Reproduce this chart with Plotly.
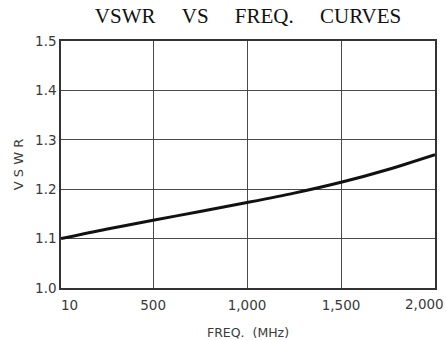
import plotly.graph_objects as go

freq_mhz = [10, 250, 500, 750, 1000, 1250, 1500, 1750, 2000]
vswr = [1.100, 1.119, 1.137, 1.155, 1.173, 1.192, 1.214, 1.240, 1.270]

x_tickvals = [10, 500, 1000, 1500, 2000]
x_ticktext = ["\u00a0\u00a0\u00a0\u00a010", "500", "1,000", "1,500", ""]
x_last_label = "2,000"
y_tickvals = [1.0, 1.1, 1.2, 1.3, 1.4, 1.5]
y_ticktext = ["1.0", "1.1", "1.2", "1.3", "1.4", "1.5"]

tick_font = dict(family="DejaVu Sans, Liberation Sans, sans-serif", size=13.5, color="#3a3a3a")

fig = go.Figure()
fig.add_trace(go.Scatter(
    x=freq_mhz, y=vswr, mode="lines",
    line=dict(color="#111111", width=3, shape="spline", smoothing=0.8),
    showlegend=False, hoverinfo="skip",
))

sp = "\u00a0" * 5
fig.update_layout(
    width=446, height=340,
    margin=dict(l=61, r=11, t=41, b=52),
    paper_bgcolor="white", plot_bgcolor="white",
    title=dict(
        text=f"VSWR{sp}VS{sp}FREQ.{sp}CURVES",
        font=dict(family="Liberation Serif, DejaVu Serif, serif", size=21, color="#111111"),
        x=0.5, xref="paper", xanchor="center",
        y=1, yref="container", yanchor="top", pad=dict(t=8),
    ),
    font=dict(family="DejaVu Sans, Liberation Sans, sans-serif", color="#333333"),
)
fig.add_annotation(
    x=x_tickvals[-1], xref="x", y=0, yref="paper",
    text=x_last_label, showarrow=False, font=tick_font,
    xanchor="right", yanchor="top", xshift=11, yshift=-6,
)
fig.update_xaxes(
    range=[10, 2000], tickvals=x_tickvals, ticktext=x_ticktext,
    showgrid=True, gridcolor="#4a4a4a", gridwidth=1,
    showline=True, linecolor="#333333", linewidth=1.5, mirror=True,
    ticks="", tickfont=tick_font, ticklabeloverflow="allow",
    ticklabelstandoff=4,
    title=dict(text="FREQ.\u00a0 (MHz)", font=dict(size=12.5, color="#3a3a3a"), standoff=16),
    zeroline=False, automargin=False,
)
fig.update_yaxes(
    range=[1.0, 1.5], tickvals=y_tickvals, ticktext=y_ticktext,
    showgrid=True, gridcolor="#4a4a4a", gridwidth=1,
    showline=True, linecolor="#333333", linewidth=1.5, mirror=True,
    ticks="", tickfont=tick_font,
    title=dict(text="V\u00a0S\u00a0W\u00a0R", font=dict(size=13, color="#3a3a3a"), standoff=9),
    zeroline=False, automargin=False,
)

fig.write_html("out.html")
